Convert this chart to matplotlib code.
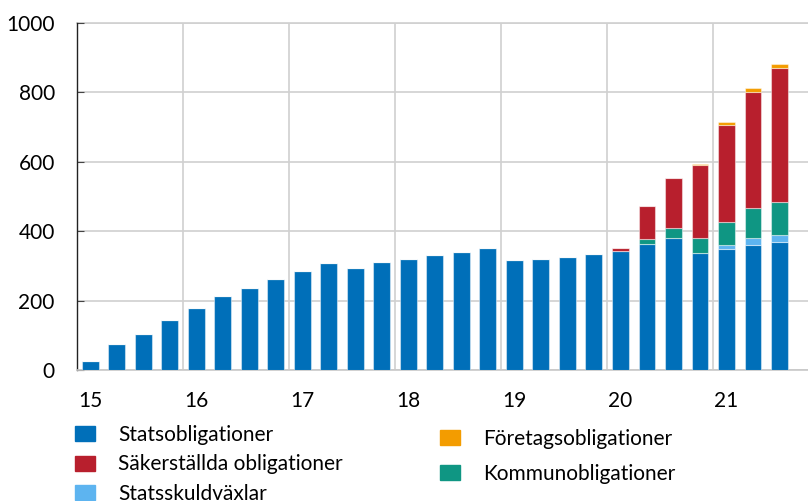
import numpy as np
import matplotlib
matplotlib.use("Agg")
import matplotlib.pyplot as plt
from matplotlib.patches import Patch

# ------------------------ DATA ------------------------
# quarterly, 2015Q1 .. 2021Q3 (mdr kr)
quarters = [f"{y}Q{q}" for y in range(15, 22) for q in range(1, 5)][:27]
year_labels = ["15", "16", "17", "18", "19", "20", "21"]

statsobl = [25, 75, 105, 145, 180, 214, 237, 261, 285, 307, 295, 310, 321, 331,
            339, 351, 317, 319, 326, 334, 343, 363, 379, 337, 350, 361, 370]
statsskuld = [0] * 24 + [11, 20, 20]
kommun = [0] * 21 + [15, 29, 44, 66, 85, 95]
sakerst = [0] * 20 + [9, 95, 145, 210, 280, 336, 384]
foretag = [0] * 23 + [3, 8, 12, 14]

names = ["Statsobligationer", "Säkerställda obligationer", "Statsskuldväxlar",
         "Företagsobligationer", "Kommunobligationer"]
colors = {
    "Statsobligationer": "#006fb9",
    "Statsskuldväxlar": "#5db4f0",
    "Kommunobligationer": "#0f9683",
    "Säkerställda obligationer": "#b81f2d",
    "Företagsobligationer": "#f39c00",
}

# ------------------------ PLOT ------------------------
plt.rcParams["font.family"] = ["Lato", "DejaVu Sans"]
fig = plt.figure(figsize=(8.08, 5.01), dpi=100)
ax = fig.add_axes([77 / 808, 1 - 370 / 501, 1 - 77 / 808, (370 - 23) / 501])

x = np.arange(len(quarters))
stack = [("Statsobligationer", statsobl), ("Statsskuldväxlar", statsskuld),
         ("Kommunobligationer", kommun), ("Säkerställda obligationer", sakerst),
         ("Företagsobligationer", foretag)]
bottom = np.zeros(len(x))
for name, vals in stack:
    vals = np.array(vals, dtype=float)
    ax.bar(x, vals, 0.63, bottom=bottom, color=colors[name],
           edgecolor=(1, 1, 1, 0.45), linewidth=0.8, zorder=3)
    bottom += vals

ax.set_xlim(-0.5, 27.08)
ax.set_ylim(0, 1000)
ax.set_yticks(range(0, 1001, 200))
ax.set_xticks(np.arange(0, 27, 4))
ax.set_xticklabels(year_labels)
ax.set_xticks(np.arange(3.5, 27, 4), minor=True)

ax.grid(axis="y", color="#d0d0d0", linewidth=1.2, zorder=0)
ax.grid(axis="x", which="minor", color="#d0d0d0", linewidth=1.2, zorder=0)
ax.axhline(1000, color="#d0d0d0", linewidth=1.2, zorder=0, clip_on=False)
for s in ["top", "right"]:
    ax.spines[s].set_visible(False)
ax.spines["bottom"].set_color("#c8c8c8")
ax.spines["bottom"].set_linewidth(1.2)
ax.spines["left"].set_color("#222222")
ax.spines["left"].set_linewidth(1.0)

ax.tick_params(axis="y", direction="in", length=5, color="#444444",
               labelsize=15, pad=16)
ax.tick_params(axis="x", which="both", length=0, labelsize=15, pad=15)

# two separate legend columns
h1 = [Patch(color=colors[n]) for n in names[:3]]
h2 = [Patch(color=colors[n]) for n in names[3:]]
leg1 = fig.legend(h1, names[:3], loc="upper left",
                  bbox_to_anchor=(75 / 808, 1 - 425 / 501), frameon=False,
                  fontsize=15, handlelength=0.96, handleheight=0.72,
                  handletextpad=1.1, labelspacing=0.45, borderpad=0,
                  borderaxespad=0)
leg2 = fig.legend(h2, names[3:], loc="upper left",
                  bbox_to_anchor=(440 / 808, 1 - 429 / 501), frameon=False,
                  fontsize=15, handlelength=0.96, handleheight=0.72,
                  handletextpad=1.1, labelspacing=0.72, borderpad=0,
                  borderaxespad=0)

fig.savefig("out.png", dpi=100)
